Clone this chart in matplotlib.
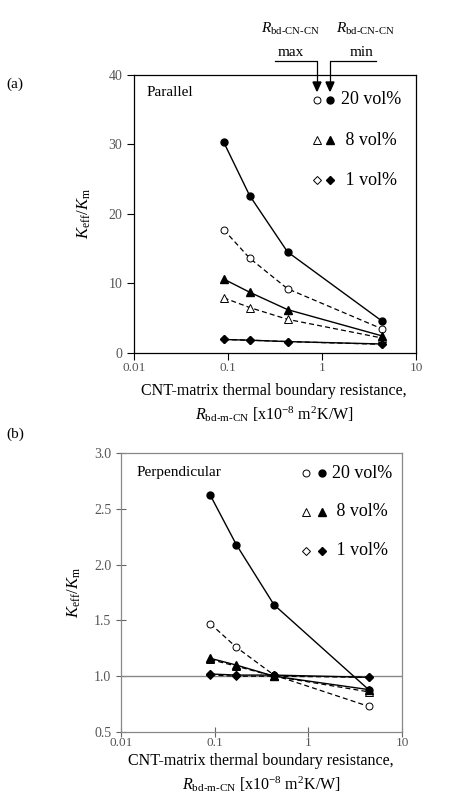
import matplotlib
matplotlib.use('Agg')
import matplotlib.pyplot as plt
from matplotlib.lines import Line2D

plt.rcParams['font.family'] = ['Liberation Serif', 'DejaVu Serif']
plt.rcParams['mathtext.fontset'] = 'custom'
plt.rcParams['mathtext.rm'] = 'Liberation Serif'
plt.rcParams['mathtext.it'] = 'Liberation Serif:italic'

# CNT-matrix thermal boundary resistance [x1e-8 m2K/W]
r_bd = [0.09, 0.17, 0.43, 4.4]

# (a) parallel, Keff/Km
par_20_min = [30.3, 22.6, 14.5, 4.5]
par_20_max = [17.7, 13.6, 9.2, 3.4]
par_8_min = [10.6, 8.7, 6.2, 2.4]
par_8_max = [7.9, 6.5, 4.8, 2.1]
par_1_min = [1.9, 1.8, 1.6, 1.25]
par_1_max = [1.9, 1.8, 1.6, 1.2]

# (b) perpendicular, Keff/Km
perp_20_min = [2.62, 2.18, 1.64, 0.88]
perp_20_max = [1.47, 1.26, 1.01, 0.73]
perp_8_min = [1.16, 1.10, 1.00, 0.88]
perp_8_max = [1.15, 1.09, 1.00, 0.86]
perp_1_min = [1.02, 1.01, 1.01, 0.99]
perp_1_max = [1.01, 1.00, 1.00, 0.99]

vol_labels = ['20 vol%', ' 8 vol%', ' 1 vol%']
markers = ['o', '^', 'D']
msizes = [5, 6, 4.5]

fig = plt.figure(figsize=(4.62, 7.96), dpi=100)
W, H = 462, 796


def fx(x):
    return x / W


def fy(y):
    return 1 - y / H


def draw_panel(ax, series, spine_color, tick_color):
    for (vals_min, vals_max), m, ms in zip(series, markers, msizes):
        ax.plot(r_bd, vals_max, ls=(0, (4, 2.5)), color='black', lw=0.9,
                marker=m, ms=ms, mfc='white', mec='black', mew=0.7, zorder=3)
        ax.plot(r_bd, vals_min, ls='-', color='black', lw=1.0,
                marker=m, ms=ms, mfc='black', mec='black', zorder=4)
    ax.set_xscale('log')
    ax.set_xlim(0.01, 10)
    ax.set_xticks([0.01, 0.1, 1, 10])
    ax.set_xticklabels(['0.01', '0.1', '1', '10'])
    ax.minorticks_off()
    for s in ax.spines.values():
        s.set_color(spine_color)
        s.set_linewidth(0.9)
    ax.tick_params(colors=tick_color, labelcolor='#555555', labelsize=10,
                   length=5, width=0.8)
    ax.tick_params(axis='x', labelsize=9.5, pad=2)
    ax.set_ylabel(r'$K_{\rm eff}/K_{\rm m}$', fontsize=12, color='black')


def draw_xlabel(xc, y1, y2):
    fig.text(fx(xc), fy(y1), 'CNT-matrix thermal boundary resistance,',
             fontsize=11.5, ha='center', va='center')
    fig.text(fx(xc), fy(y2), r'$R_{\text{bd-m-CN}}$ [x10$^{-8}$ m$^2$K/W]',
             fontsize=11.5, ha='center', va='center')


def draw_key(ax, xs, xt, ys):
    for y, m, ms, lab in zip(ys, markers, msizes, vol_labels):
        ax.plot([xs[0]], [y], marker=m, ms=ms, mfc='white', mec='black',
                mew=0.7, transform=ax.transAxes, clip_on=False)
        ax.plot([xs[1]], [y], marker=m, ms=ms, mfc='black', mec='black',
                transform=ax.transAxes, clip_on=False)
        ax.text(xt, y, lab, transform=ax.transAxes, fontsize=13,
                va='center', ha='left')


# (a) parallel
ax1 = fig.add_axes([fx(134), fy(352.7), fx(416) - fx(134), fy(74.7) - fy(352.7)])
draw_panel(ax1, [(par_20_min, par_20_max), (par_8_min, par_8_max),
                 (par_1_min, par_1_max)], 'black', 'black')
ax1.set_ylim(0, 40)
ax1.set_yticks([0, 10, 20, 30, 40])
ax1.tick_params(direction='out')
ax1.yaxis.set_label_coords(-0.145, 0.5)
ax1.text(0.045, 0.935, 'Parallel', transform=ax1.transAxes, fontsize=11,
         va='center')
draw_key(ax1, (0.649, 0.695), 0.735, (0.909, 0.765, 0.621))
draw_xlabel(274, 391, 414)

# (b) perpendicular
ax2 = fig.add_axes([fx(121), fy(732), fx(402) - fx(121), fy(453) - fy(732)])
draw_panel(ax2, [(perp_20_min, perp_20_max), (perp_8_min, perp_8_max),
                 (perp_1_min, perp_1_max)], '#888888', '#666666')
ax2.set_ylim(0.5, 3.0)
ax2.set_yticks([0.5, 1.0, 1.5, 2.0, 2.5, 3.0])
ax2.set_yticklabels(['0.5', '1.0', '1.5', '2.0', '2.5', '3.0'])
ax2.tick_params(direction='inout', length=7)
ax2.tick_params(axis='x', pad=0)
ax2.yaxis.set_label_coords(-0.135, 0.5)
ax2.axhline(1.0, color='#888888', lw=1.0, zorder=2)
ax2.text(0.055, 0.93, 'Perpendicular', transform=ax2.transAxes, fontsize=11,
         va='center')
draw_key(ax2, (0.658, 0.715), 0.75, (0.928, 0.789, 0.649))
draw_xlabel(261, 761, 784)

# panel letters
fig.text(fx(6), fy(84), '(a)', fontsize=11, va='center')
fig.text(fx(6), fy(434), '(b)', fontsize=11, va='center')

# boundary resistance annotation above panel (a)
lab = r'$R_{\text{bd-CN-CN}}$'
fig.text(fx(290), fy(29), lab, fontsize=11, ha='center', va='center')
fig.text(fx(365), fy(29), lab, fontsize=11, ha='center', va='center')
fig.text(fx(291), fy(52), 'max', fontsize=11, ha='center', va='center')
fig.text(fx(362), fy(52), 'min', fontsize=11, ha='center', va='center')
fig.add_artist(Line2D([fx(275), fx(317), fx(317)], [fy(61), fy(61), fy(84)],
                      color='black', lw=0.9))
fig.add_artist(Line2D([fx(376), fx(330), fx(330)], [fy(61), fy(61), fy(84)],
                      color='black', lw=0.9))
for xa in (317, 330):
    fig.add_artist(plt.Polygon([[fx(xa - 4), fy(82)], [fx(xa + 4), fy(82)],
                                [fx(xa), fy(91)]], closed=True,
                               color='black', transform=fig.transFigure))

fig.savefig('out.png', dpi=100)
